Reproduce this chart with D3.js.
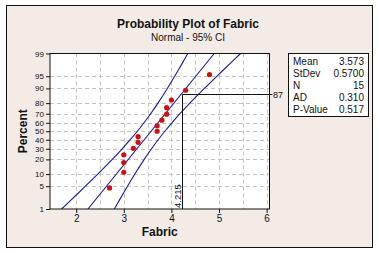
<!DOCTYPE html>
<html>
<head>
<meta charset="utf-8">
<script src="https://cdn.jsdelivr.net/npm/d3@7"></script>
<style>
  body { margin: 0; background: #fff; }
  svg { display: block; font-family: Tahoma, "Liberation Sans", Arial, sans-serif; }
</style>
</head>
<body>
<svg id="chart" width="379" height="253"></svg>
<script>
// ---- data ----
const pctTicks = [1, 5, 10, 20, 30, 40, 50, 60, 70, 80, 90, 95, 99];
const xTicks = [2, 3, 4, 5, 6];
const xGrid = [2, 2.5, 3, 3.5, 4, 4.5, 5, 5.5, 6];

// ordered Fabric values and their plotting positions (%)
const fabric  = [2.7, 3.0, 3.0, 3.0, 3.2, 3.3, 3.3, 3.7, 3.7, 3.8, 3.9, 3.9, 4.0, 4.3, 4.8];
const plotPct = [4.5, 11.0, 17.5, 24.0, 30.5, 37.0, 43.5, 50.0, 56.5, 63.0, 69.5, 76.0, 82.5, 89.0, 95.5];

// 95% CI band, read at percent levels
const bandPct  = [1, 2, 5, 10, 20, 30, 40, 50, 60, 70, 80, 90, 95, 98, 99];
const bandLow  = [1.692, 1.894, 2.193, 2.453, 2.758, 2.966, 3.136, 3.285, 3.424, 3.564, 3.717, 3.914, 4.068, 4.235, 4.344];
const bandHigh = [2.802, 2.911, 3.078, 3.232, 3.429, 3.582, 3.722, 3.862, 4.011, 4.180, 4.388, 4.693, 4.953, 5.252, 5.454];

// fitted line end points
const fitPct = [1, 99];
const fitX   = [2.247, 4.899];

// reference marker
const refPct = 87;
const refX = 4.215;

const statLabels = ["Mean", "StDev", "N", "AD", "P-Value"];
const statValues = ["3.573", "0.5700", "15", "0.310", "0.517"];

// inverse normal cdf (Acklam) for the probability axis
function probit(p) {
  const a = [-3.969683028665376e+01, 2.209460984245205e+02, -2.759285104469687e+02, 1.383577518672690e+02, -3.066479806614716e+01, 2.506628277459239e+00];
  const b = [-5.447609879822406e+01, 1.615858368580409e+02, -1.556989798598866e+02, 6.680131188771972e+01, -1.328068155288572e+01];
  const c = [-7.784894002430293e-03, -3.223964580411365e-01, -2.400758277161838e+00, -2.549671010321444e+00, 4.374664141464968e+00, 2.938163982698783e+00];
  const d = [7.784695709041462e-03, 3.224671290700398e-01, 2.445134137142996e+00, 3.754408661907416e+00];
  const pl = 0.02425;
  if (p < pl) {
    const q = Math.sqrt(-2 * Math.log(p));
    return (((((c[0]*q+c[1])*q+c[2])*q+c[3])*q+c[4])*q+c[5]) / ((((d[0]*q+d[1])*q+d[2])*q+d[3])*q+1);
  }
  if (p > 1 - pl) {
    const q = Math.sqrt(-2 * Math.log(1 - p));
    return -(((((c[0]*q+c[1])*q+c[2])*q+c[3])*q+c[4])*q+c[5]) / ((((d[0]*q+d[1])*q+d[2])*q+d[3])*q+1);
  }
  const q = p - 0.5, r = q * q;
  return (((((a[0]*r+a[1])*r+a[2])*r+a[3])*r+a[4])*r+a[5])*q / (((((b[0]*r+b[1])*r+b[2])*r+b[3])*r+b[4])*r+1);
}

const svg = d3.select("#chart");

// plot box
const L = 50, R = 269.5, T = 53.5, B = 209;

const x = d3.scaleLinear().domain([1.45, 6.06]).range([L, R]);
const yz = d3.scaleLinear().domain([probit(0.01), probit(0.99)]).range([B, T]);
const yp = p => yz(probit(p / 100));

// outer frame
svg.append("rect")
  .attr("x", 6.5).attr("y", 5.5)
  .attr("width", 366).attr("height", 242)
  .attr("fill", "#f3ece6")
  .attr("stroke", "#111");

// plot background
svg.append("rect")
  .attr("x", L).attr("y", T)
  .attr("width", R - L).attr("height", B - T)
  .attr("fill", "#fff");

// grid
const grid = svg.append("g").attr("stroke", "#c4c4c4").attr("stroke-dasharray", "4,3");
grid.selectAll(".vg").data(xGrid).join("line")
  .attr("x1", d => Math.round(x(d)) + 0.5).attr("x2", d => Math.round(x(d)) + 0.5)
  .attr("y1", T).attr("y2", B);
grid.selectAll(".hg").data(pctTicks.slice(1, -1)).join("line")
  .attr("x1", L).attr("x2", R)
  .attr("y1", d => Math.round(yp(d)) + 0.5).attr("y2", d => Math.round(yp(d)) + 0.5);

// axes
const yAxis = d3.axisLeft(yz)
  .tickValues(pctTicks.map(p => probit(p / 100)))
  .tickFormat((d, i) => pctTicks[i])
  .tickSize(4).tickPadding(2);
const gy = svg.append("g").attr("transform", `translate(${L},0)`).call(yAxis);
gy.select(".domain").remove();
gy.selectAll("text").attr("font-size", 8).attr("font-family", null).attr("fill", "#111");
gy.selectAll("line").attr("stroke", "#111");

const xAxis = d3.axisBottom(x).tickValues(xTicks).tickFormat(d3.format("d")).tickSize(4).tickPadding(2);
const gx = svg.append("g").attr("transform", `translate(0,${B})`).call(xAxis);
gx.select(".domain").remove();
gx.selectAll("text").attr("font-size", 10).attr("font-family", null).attr("fill", "#111");
gx.selectAll("line").attr("stroke", "#111");

// clip for the curves
svg.append("clipPath").attr("id", "clip")
  .append("rect").attr("x", L).attr("y", T).attr("width", R - L).attr("height", B - T);

const plot = svg.append("g").attr("clip-path", "url(#clip)");

const line = d3.line().x(d => x(d.v)).y(d => yp(d.p)).curve(d3.curveCatmullRom);

const lowPts = bandPct.map((p, i) => ({ p, v: bandLow[i] }));
const highPts = bandPct.map((p, i) => ({ p, v: bandHigh[i] }));
const fitPts = fitPct.map((p, i) => ({ p, v: fitX[i] }));

[lowPts, fitPts, highPts].forEach(pts => {
  plot.append("path")
    .datum(pts)
    .attr("fill", "none")
    .attr("stroke", "#1a1a96")
    .attr("stroke-width", 1.1)
    .attr("d", line);
});

// reference lines at 87%
const ry = Math.round(yp(refPct)) + 0.5;
const rx = Math.round(x(refX)) + 0.5;
svg.append("line")
  .attr("x1", rx).attr("x2", R + 3)
  .attr("y1", ry).attr("y2", ry)
  .attr("stroke", "#111");
svg.append("line")
  .attr("x1", rx).attr("x2", rx)
  .attr("y1", ry).attr("y2", B)
  .attr("stroke", "#111");

svg.append("text")
  .attr("x", R + 3.5).attr("y", ry)
  .attr("dy", "0.35em")
  .attr("font-size", 9)
  .attr("fill", "#111")
  .text(refPct);

svg.append("text")
  .attr("transform", `translate(${rx - 1.5},${B - 1}) rotate(-90)`)
  .attr("font-size", 9.5)
  .attr("fill", "#111")
  .text(refX.toFixed(3));

// data points
plot.selectAll(".pt").data(fabric).join("circle")
  .attr("cx", d => x(d))
  .attr("cy", (d, i) => yp(plotPct[i]))
  .attr("r", 2.6)
  .attr("fill", "#d01010");

// plot border
svg.append("rect")
  .attr("x", L).attr("y", T)
  .attr("width", R - L).attr("height", B - T)
  .attr("fill", "none")
  .attr("stroke", "#111");

// titles
svg.append("text")
  .attr("x", 188).attr("y", 28)
  .attr("text-anchor", "middle")
  .attr("font-size", 12).attr("font-weight", "bold")
  .attr("fill", "#111")
  .text("Probability Plot of Fabric");
svg.append("text")
  .attr("x", 188).attr("y", 41)
  .attr("text-anchor", "middle")
  .attr("font-size", 10)
  .attr("fill", "#111")
  .text("Normal - 95% CI");

svg.append("text")
  .attr("x", (L + R) / 2).attr("y", 236)
  .attr("text-anchor", "middle")
  .attr("font-size", 12).attr("font-weight", "bold")
  .attr("fill", "#111")
  .text("Fabric");

svg.append("text")
  .attr("transform", `translate(27,${(T + B) / 2}) rotate(-90)`)
  .attr("text-anchor", "middle")
  .attr("font-size", 12).attr("font-weight", "bold")
  .attr("fill", "#111")
  .text("Percent");

// stats box
const bx = 288, by = 53.5, bw = 80, bh = 63;
svg.append("rect")
  .attr("x", bx + 0.5).attr("y", by)
  .attr("width", bw).attr("height", bh)
  .attr("fill", "#fff").attr("stroke", "#111");

const rowY = d3.scalePoint().domain(statLabels).range([by + 8, by + bh - 7]);
svg.append("g").selectAll("text").data(statLabels).join("text")
  .attr("x", bx + 5).attr("y", d => rowY(d))
  .attr("dy", "0.35em")
  .attr("font-size", 10).attr("fill", "#111")
  .text(d => d);
svg.append("g").selectAll("text").data(statValues).join("text")
  .attr("x", bx + bw - 4).attr("y", (d, i) => rowY(statLabels[i]))
  .attr("dy", "0.35em")
  .attr("text-anchor", "end")
  .attr("font-size", 10).attr("fill", "#111")
  .text(d => d);
</script>
</body>
</html>
